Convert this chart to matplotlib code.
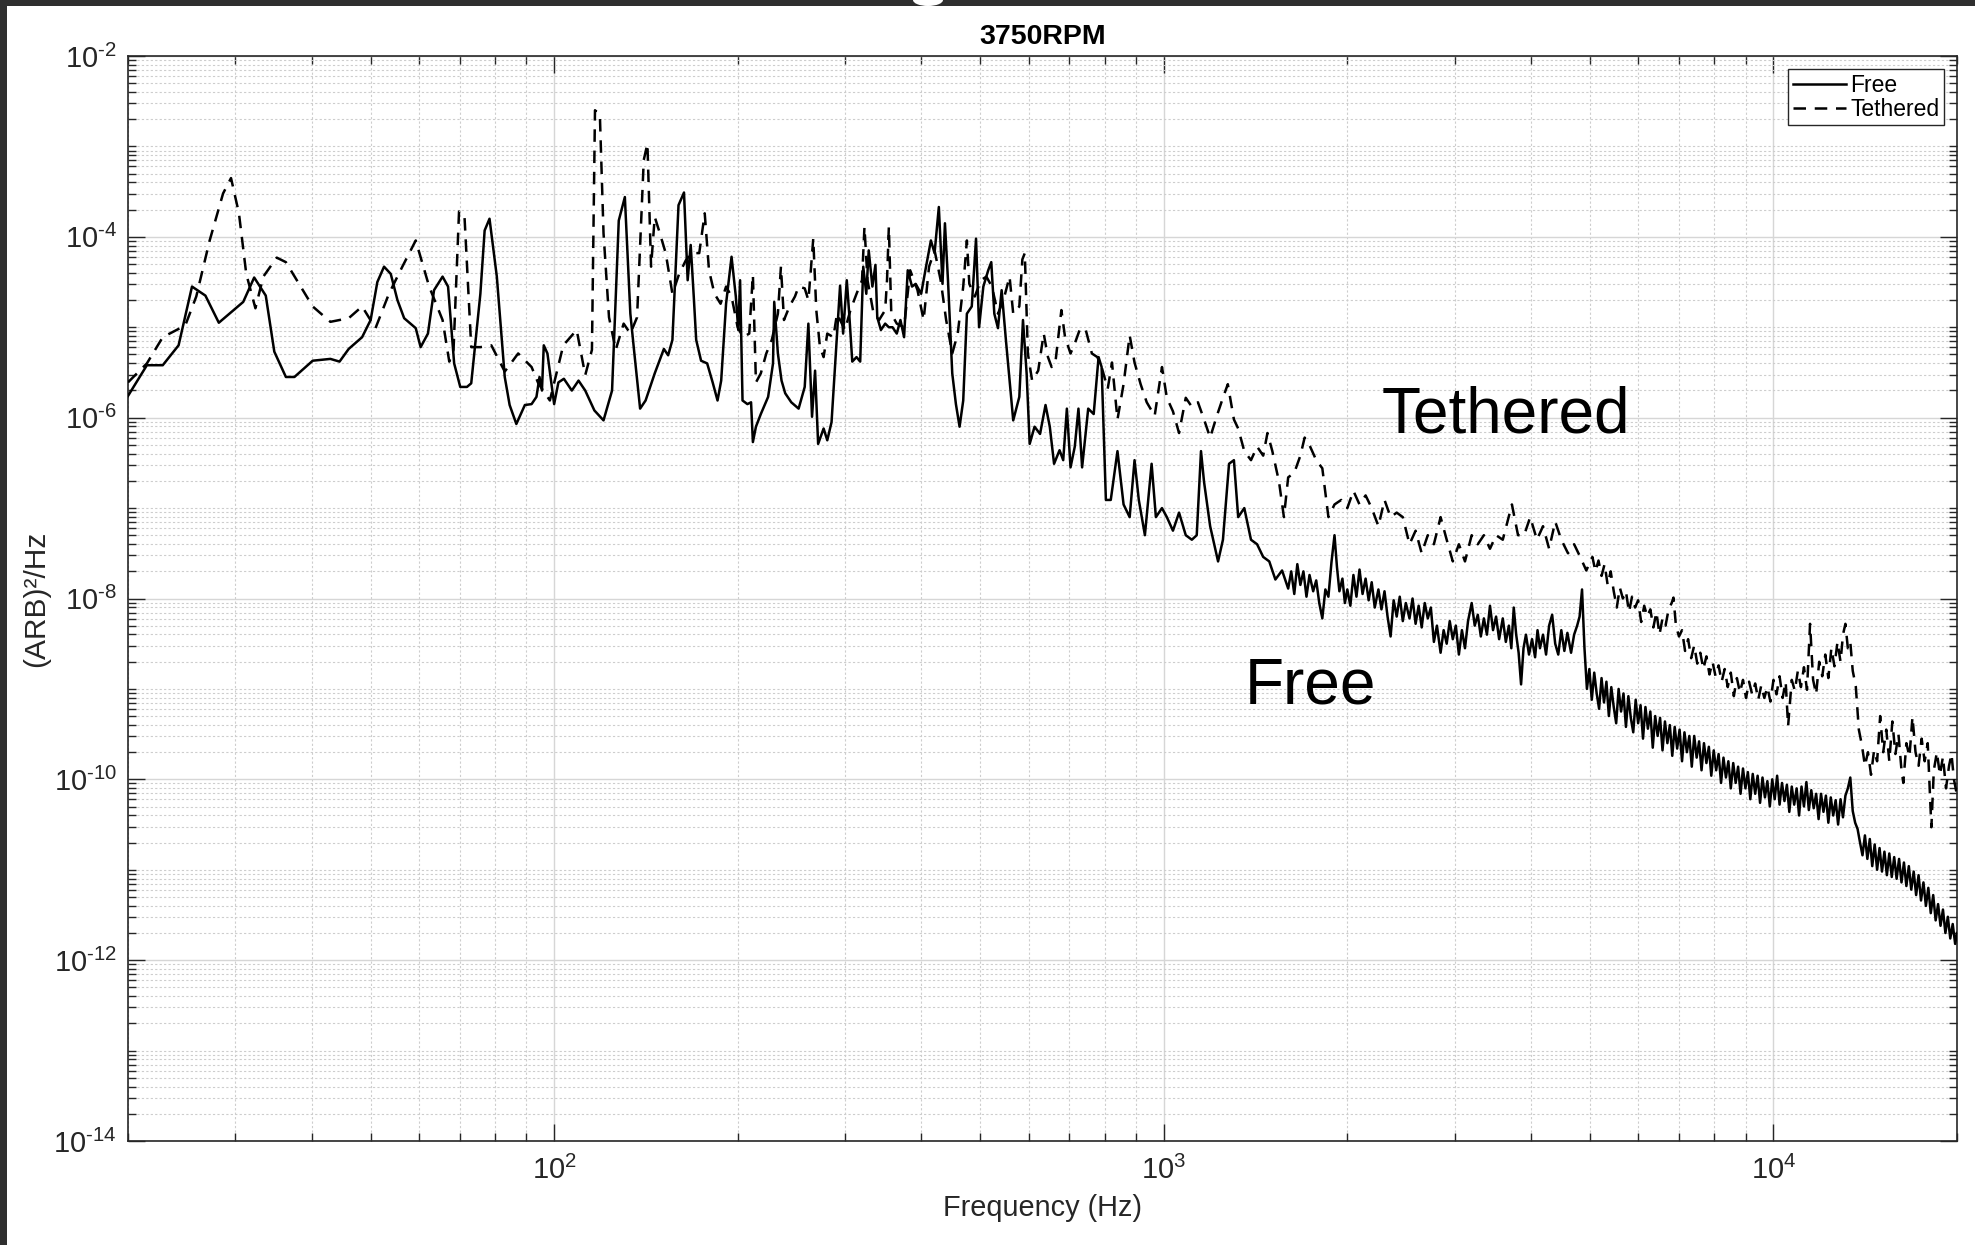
import numpy as np
import matplotlib
matplotlib.use("Agg")
import matplotlib.pyplot as plt
from matplotlib.ticker import LogLocator, FixedLocator, FuncFormatter, NullFormatter
from matplotlib.patches import Rectangle, Ellipse

# ---------------- data (log10 frequency [Hz], log10 PSD [(ARB)^2/Hz]) ----------------
free_points = [
    (1.301, -5.76), (1.332, -5.42), (1.358, -5.42), (1.384, -5.20), (1.406, -4.55), (1.428, -4.65),
    (1.450, -4.95), (1.490, -4.72), (1.508, -4.45), (1.527, -4.65), (1.541, -5.27), (1.560, -5.55),
    (1.574, -5.55), (1.604, -5.37), (1.633, -5.35), (1.648, -5.38), (1.663, -5.24), (1.685, -5.11),
    (1.699, -4.92), (1.710, -4.50), (1.721, -4.33), (1.732, -4.41), (1.743, -4.70), (1.754, -4.90),
    (1.773, -5.01), (1.781, -5.22), (1.793, -5.07), (1.803, -4.59), (1.817, -4.44), (1.826, -4.55),
    (1.836, -5.40), (1.846, -5.66), (1.857, -5.66), (1.864, -5.62), (1.879, -4.63), (1.886, -3.93),
    (1.894, -3.80), (1.906, -4.44), (1.919, -5.55), (1.927, -5.86), (1.938, -6.07), (1.952, -5.86),
    (1.963, -5.85), (1.971, -5.77), (1.976, -5.55), (1.980, -5.70), (1.983, -5.20), (1.989, -5.29),
    (2.000, -5.85), (2.007, -5.61), (2.016, -5.57), (2.029, -5.70), (2.040, -5.59), (2.051, -5.70),
    (2.066, -5.92), (2.081, -6.03), (2.095, -5.70), (2.106, -3.82), (2.116, -3.56), (2.125, -4.85),
    (2.131, -5.25), (2.141, -5.90), (2.150, -5.81), (2.165, -5.51), (2.180, -5.24), (2.187, -5.31),
    (2.194, -5.14), (2.204, -3.65), (2.213, -3.51), (2.219, -4.48), (2.224, -4.09), (2.229, -4.66),
    (2.233, -5.14), (2.241, -5.37), (2.251, -5.40), (2.260, -5.61), (2.268, -5.81), (2.274, -5.59),
    (2.282, -4.74), (2.291, -4.22), (2.298, -4.66), (2.302, -5.03), (2.305, -4.48), (2.309, -5.81),
    (2.317, -5.85), (2.323, -5.83), (2.326, -6.27), (2.331, -6.10), (2.339, -5.96), (2.351, -5.77),
    (2.359, -5.40), (2.361, -4.72), (2.367, -5.29), (2.373, -5.59), (2.379, -5.73), (2.389, -5.83),
    (2.401, -5.90), (2.411, -5.66), (2.417, -4.96), (2.423, -5.99), (2.428, -5.48), (2.433, -6.29),
    (2.442, -6.12), (2.448, -6.25), (2.455, -6.05), (2.461, -5.40), (2.469, -4.54), (2.474, -5.07),
    (2.480, -4.48), (2.484, -4.85), (2.489, -5.38), (2.496, -5.33), (2.502, -5.38), (2.507, -4.33),
    (2.512, -4.63), (2.516, -4.15), (2.522, -4.55), (2.527, -4.31), (2.530, -4.89), (2.536, -5.03),
    (2.543, -4.96), (2.549, -5.00), (2.555, -5.00), (2.562, -5.07), (2.568, -4.92), (2.574, -5.11),
    (2.580, -4.37), (2.587, -4.55), (2.593, -4.52), (2.602, -4.63), (2.610, -4.33), (2.618, -4.04),
    (2.624, -4.18), (2.631, -3.67), (2.637, -4.52), (2.641, -3.85), (2.646, -4.48), (2.653, -5.51),
    (2.659, -5.85), (2.665, -6.10), (2.671, -5.81), (2.677, -4.85), (2.685, -4.77), (2.692, -4.02),
    (2.697, -5.00), (2.704, -4.55), (2.712, -4.37), (2.717, -4.28), (2.722, -4.85), (2.728, -5.01),
    (2.734, -4.59), (2.741, -5.14), (2.747, -5.59), (2.753, -6.03), (2.763, -5.77), (2.769, -4.92),
    (2.775, -5.51), (2.780, -6.29), (2.788, -6.10), (2.797, -6.18), (2.806, -5.86), (2.813, -6.10),
    (2.820, -6.51), (2.829, -6.36), (2.835, -6.47), (2.841, -5.90), (2.847, -6.55), (2.854, -6.32),
    (2.860, -5.90), (2.866, -6.55), (2.876, -5.90), (2.885, -5.96), (2.893, -5.33), (2.898, -5.44),
    (2.905, -6.91), (2.913, -6.91), (2.924, -6.37), (2.934, -6.96), (2.944, -7.10), (2.952, -6.47),
    (2.959, -6.91), (2.969, -7.30), (2.980, -6.51), (2.987, -7.10), (2.997, -7.00), (3.005, -7.10),
    (3.015, -7.25), (3.025, -7.05), (3.036, -7.30), (3.046, -7.35), (3.054, -7.30), (3.061, -6.37),
    (3.066, -6.71), (3.076, -7.20), (3.089, -7.59), (3.097, -7.35), (3.107, -6.51), (3.115, -6.47),
    (3.122, -7.10), (3.132, -7.00), (3.143, -7.35), (3.153, -7.40), (3.163, -7.54), (3.173, -7.59),
    (3.183, -7.79), (3.194, -7.69),
    (3.204, -7.89), (3.209, -7.70), (3.214, -7.95), (3.219, -7.62), (3.224, -7.85), (3.229, -7.70),
    (3.234, -7.98), (3.239, -7.74), (3.245, -7.92), (3.250, -7.80), (3.255, -8.05), (3.260, -8.22),
    (3.265, -7.90), (3.270, -7.98), (3.275, -7.60), (3.280, -7.30), (3.284, -7.65), (3.288, -7.92),
    (3.293, -7.78), (3.297, -8.05), (3.301, -7.90), (3.306, -8.08), (3.311, -7.74), (3.316, -7.98),
    (3.321, -7.68), (3.326, -7.95), (3.331, -7.78), (3.336, -8.02), (3.341, -7.82), (3.346, -8.10),
    (3.352, -7.90), (3.357, -8.12), (3.362, -7.92), (3.367, -8.20), (3.372, -8.42), (3.377, -8.02),
    (3.382, -8.20), (3.387, -7.98), (3.392, -8.25), (3.397, -8.05), (3.403, -8.22), (3.408, -8.00),
    (3.413, -8.28), (3.418, -8.08), (3.423, -8.32), (3.428, -8.05), (3.433, -8.22), (3.438, -8.10),
    (3.443, -8.48), (3.448, -8.30), (3.454, -8.60), (3.459, -8.35), (3.464, -8.50), (3.469, -8.25),
    (3.474, -8.45), (3.479, -8.30), (3.484, -8.62), (3.489, -8.35), (3.494, -8.55), (3.499, -8.25),
    (3.505, -8.05), (3.510, -8.30), (3.515, -8.18), (3.520, -8.42), (3.525, -8.22), (3.530, -8.40),
    (3.535, -8.08), (3.540, -8.35), (3.545, -8.20), (3.550, -8.45), (3.556, -8.22), (3.561, -8.48),
    (3.566, -8.30), (3.570, -8.55), (3.574, -8.10), (3.578, -8.40), (3.582, -8.60), (3.586, -8.95),
    (3.590, -8.55), (3.594, -8.40), (3.599, -8.62), (3.604, -8.45), (3.609, -8.65), (3.613, -8.35),
    (3.617, -8.55), (3.622, -8.40), (3.627, -8.62), (3.632, -8.30), (3.637, -8.18), (3.642, -8.50),
    (3.647, -8.62), (3.652, -8.35), (3.657, -8.58), (3.662, -8.38), (3.668, -8.60), (3.673, -8.40),
    (3.678, -8.30), (3.682, -8.20), (3.686, -7.90),
    (3.690, -8.55), (3.694, -9.00), (3.698, -8.78), (3.702, -9.12), (3.706, -8.82), (3.710, -9.05),
    (3.714, -9.22), (3.718, -8.88), (3.722, -9.15), (3.726, -8.92), (3.730, -9.30), (3.734, -8.98),
    (3.738, -9.20), (3.742, -9.38), (3.746, -9.00), (3.750, -9.25), (3.754, -9.05), (3.758, -9.42),
    (3.762, -9.08), (3.766, -9.32), (3.770, -9.48), (3.774, -9.12), (3.778, -9.38), (3.782, -9.18),
    (3.786, -9.55), (3.790, -9.20), (3.794, -9.44), (3.798, -9.25), (3.802, -9.65), (3.806, -9.30),
    (3.810, -9.52), (3.814, -9.32), (3.818, -9.68), (3.822, -9.36), (3.826, -9.60), (3.830, -9.40),
    (3.834, -9.74), (3.838, -9.42), (3.842, -9.66), (3.846, -9.45), (3.850, -9.80), (3.854, -9.48),
    (3.858, -9.70), (3.862, -9.52), (3.866, -9.86), (3.870, -9.52), (3.874, -9.76), (3.878, -9.58),
    (3.882, -9.90), (3.886, -9.60), (3.890, -9.82), (3.894, -9.64), (3.898, -9.96), (3.902, -9.68),
    (3.906, -9.90), (3.910, -9.72), (3.914, -10.04), (3.918, -9.76), (3.922, -9.98), (3.926, -9.80),
    (3.930, -10.10), (3.934, -9.82), (3.938, -10.04), (3.942, -9.86), (3.946, -10.16), (3.950, -9.88),
    (3.954, -10.10), (3.958, -9.92), (3.962, -10.22), (3.966, -9.94), (3.970, -10.16), (3.974, -9.96),
    (3.978, -10.26), (3.982, -9.98), (3.986, -10.20), (3.990, -10.02), (3.994, -10.30), (3.998, -10.00),
    (4.002, -10.22), (4.006, -9.96), (4.010, -10.28), (4.014, -10.04), (4.018, -10.24), (4.022, -10.06),
    (4.026, -10.36), (4.030, -10.08), (4.034, -10.28), (4.038, -10.10), (4.042, -10.40), (4.046, -10.08),
    (4.050, -10.30), (4.054, -10.03), (4.058, -10.34), (4.062, -10.12), (4.066, -10.32), (4.070, -10.16),
    (4.074, -10.44), (4.078, -10.16), (4.082, -10.36), (4.086, -10.18), (4.090, -10.48), (4.094, -10.20),
    (4.098, -10.40), (4.102, -10.23), (4.106, -10.50), (4.110, -10.22), (4.114, -10.42), (4.118, -10.18),
    (4.122, -10.10), (4.126, -9.98),
    (4.130, -10.35), (4.134, -10.48), (4.138, -10.55), (4.142, -10.70), (4.146, -10.84), (4.150, -10.62),
    (4.154, -10.88), (4.158, -10.66), (4.162, -10.96), (4.166, -10.72), (4.170, -11.00), (4.174, -10.76),
    (4.178, -11.02), (4.182, -10.80), (4.186, -11.06), (4.190, -10.82), (4.194, -11.08), (4.198, -10.86),
    (4.202, -11.10), (4.206, -10.88), (4.210, -11.14), (4.214, -10.92), (4.218, -11.18), (4.222, -10.96),
    (4.226, -11.22), (4.230, -11.02), (4.234, -11.28), (4.238, -11.06), (4.242, -11.34), (4.246, -11.14),
    (4.250, -11.40), (4.254, -11.20), (4.258, -11.48), (4.262, -11.28), (4.266, -11.56), (4.270, -11.38),
    (4.274, -11.62), (4.278, -11.44), (4.282, -11.70), (4.286, -11.52), (4.290, -11.76), (4.294, -11.60),
    (4.298, -11.82), (4.301, -11.70),
]

tethered_points = [
    (1.301, -5.61), (1.332, -5.40), (1.358, -5.11), (1.395, -4.98), (1.413, -4.66), (1.435, -4.04),
    (1.457, -3.52), (1.470, -3.35), (1.483, -3.74), (1.495, -4.41), (1.510, -4.79), (1.523, -4.44),
    (1.545, -4.23), (1.560, -4.28), (1.578, -4.48), (1.604, -4.77), (1.633, -4.94), (1.663, -4.90),
    (1.685, -4.77), (1.707, -5.01), (1.729, -4.63), (1.751, -4.33), (1.773, -4.04), (1.795, -4.55),
    (1.817, -4.92), (1.828, -5.38), (1.835, -5.25), (1.844, -3.72), (1.853, -3.78), (1.864, -5.22),
    (1.879, -5.22), (1.897, -5.20), (1.919, -5.49), (1.941, -5.29), (1.963, -5.44), (1.974, -5.62),
    (1.993, -5.81), (2.015, -5.20), (2.037, -5.03), (2.051, -5.53), (2.062, -5.25), (2.067, -2.60),
    (2.075, -2.65), (2.081, -3.96), (2.090, -4.89), (2.101, -5.25), (2.114, -4.96), (2.125, -5.07),
    (2.136, -4.89), (2.147, -3.15), (2.153, -2.97), (2.159, -4.33), (2.165, -3.78), (2.172, -3.93),
    (2.183, -4.18), (2.194, -4.63), (2.205, -4.41), (2.216, -4.26), (2.225, -4.18), (2.238, -4.18),
    (2.247, -3.74), (2.254, -4.37), (2.263, -4.63), (2.273, -4.74), (2.282, -4.55), (2.291, -4.66),
    (2.301, -5.00), (2.310, -5.11), (2.320, -5.07), (2.326, -4.42), (2.331, -5.61), (2.339, -5.51),
    (2.348, -5.29), (2.357, -5.14), (2.367, -4.85), (2.372, -4.33), (2.377, -4.92), (2.386, -4.77),
    (2.395, -4.66), (2.401, -4.55), (2.411, -4.57), (2.417, -4.70), (2.421, -4.37), (2.425, -4.02),
    (2.430, -4.81), (2.436, -5.22), (2.442, -5.33), (2.448, -5.07), (2.458, -5.11), (2.464, -4.85),
    (2.477, -5.03), (2.486, -4.81), (2.496, -4.63), (2.505, -4.48), (2.509, -3.89), (2.514, -4.48),
    (2.524, -4.85), (2.533, -4.92), (2.543, -4.81), (2.546, -4.48), (2.549, -3.89), (2.553, -4.85),
    (2.562, -4.96), (2.574, -5.00), (2.584, -4.37), (2.596, -4.59), (2.606, -4.92), (2.615, -4.33),
    (2.624, -4.15), (2.634, -4.48), (2.643, -4.92), (2.653, -5.29), (2.662, -5.07), (2.671, -4.55),
    (2.677, -4.04), (2.681, -4.52), (2.690, -4.66), (2.700, -4.48), (2.709, -4.44), (2.718, -4.55),
    (2.728, -4.85), (2.737, -4.70), (2.747, -4.44), (2.753, -4.85), (2.763, -4.77), (2.768, -4.25),
    (2.772, -4.18), (2.777, -5.29), (2.784, -5.59), (2.794, -5.48), (2.803, -5.07), (2.810, -5.33),
    (2.816, -5.44), (2.822, -5.40), (2.832, -4.81), (2.838, -5.11), (2.847, -5.29), (2.854, -5.18),
    (2.863, -5.01), (2.872, -5.03), (2.882, -5.29), (2.891, -5.33), (2.898, -5.44), (2.908, -5.68),
    (2.915, -5.39), (2.924, -6.02), (2.934, -5.63), (2.944, -5.09), (2.952, -5.39), (2.962, -5.63),
    (2.972, -5.83), (2.985, -5.98), (2.997, -5.44), (3.005, -5.78), (3.015, -5.93), (3.025, -6.17),
    (3.036, -5.78), (3.046, -5.88), (3.056, -5.83), (3.066, -6.02), (3.076, -6.22), (3.087, -5.98),
    (3.097, -5.78), (3.105, -5.63), (3.115, -6.02), (3.122, -6.12), (3.132, -6.37), (3.143, -6.47),
    (3.153, -6.32), (3.163, -6.42), (3.170, -6.17), (3.178, -6.37), (3.189, -6.71), (3.197, -7.10),
    (3.204, -6.66), (3.214, -6.61), (3.224, -6.42), (3.231, -6.22), (3.240, -6.32), (3.250, -6.47),
    (3.260, -6.56), (3.270, -7.10), (3.280, -6.96), (3.291, -6.91), (3.301, -7.00), (3.311, -6.81),
    (3.321, -6.96), (3.331, -6.86), (3.341, -7.00), (3.352, -7.20), (3.362, -6.91), (3.372, -7.10),
    (3.382, -7.05), (3.392, -7.10), (3.403, -7.40), (3.413, -7.25), (3.423, -7.50), (3.433, -7.30),
    (3.443, -7.40), (3.454, -7.10), (3.464, -7.35), (3.474, -7.59), (3.484, -7.40), (3.494, -7.59),
    (3.505, -7.30), (3.515, -7.40), (3.525, -7.30), (3.535, -7.45), (3.545, -7.30), (3.556, -7.35),
    (3.571, -6.96), (3.581, -7.30), (3.591, -7.30), (3.601, -7.10), (3.612, -7.35), (3.622, -7.20),
    (3.632, -7.45), (3.642, -7.15), (3.652, -7.35), (3.663, -7.50), (3.673, -7.40), (3.683, -7.54),
    (3.693, -7.69), (3.703, -7.54), (3.708, -7.70), (3.713, -7.58), (3.718, -7.75), (3.723, -7.62),
    (3.728, -7.85), (3.733, -7.70), (3.738, -7.92), (3.743, -8.10), (3.748, -7.88), (3.753, -8.00),
    (3.758, -7.92), (3.763, -8.15), (3.768, -7.98), (3.773, -8.10), (3.778, -8.02), (3.783, -8.26),
    (3.788, -8.08), (3.793, -8.20), (3.798, -8.12), (3.803, -8.32), (3.808, -8.15), (3.813, -8.40),
    (3.818, -8.22), (3.823, -8.30), (3.828, -8.12), (3.833, -8.05), (3.836, -7.99), (3.840, -8.30),
    (3.845, -8.42), (3.850, -8.35), (3.855, -8.58), (3.860, -8.45), (3.865, -8.66), (3.870, -8.52),
    (3.875, -8.72), (3.880, -8.60), (3.885, -8.78), (3.890, -8.64), (3.895, -8.84), (3.900, -8.70),
    (3.905, -8.86), (3.910, -8.74), (3.915, -8.92), (3.920, -8.78), (3.925, -8.98), (3.930, -8.82),
    (3.935, -9.08), (3.940, -8.88), (3.945, -9.04), (3.950, -8.90), (3.955, -9.10), (3.960, -8.92),
    (3.965, -9.06), (3.970, -8.94), (3.975, -9.12), (3.980, -8.96), (3.985, -9.10), (3.990, -8.98),
    (3.995, -9.14), (4.000, -8.90), (4.005, -9.06), (4.010, -8.86), (4.015, -9.10), (4.020, -8.92),
    (4.024, -9.41), (4.030, -8.90), (4.035, -9.02), (4.040, -8.80), (4.045, -8.98), (4.050, -8.76),
    (4.055, -9.01), (4.060, -8.28), (4.065, -8.90), (4.070, -9.06), (4.075, -8.70), (4.080, -8.86),
    (4.085, -8.62), (4.090, -8.88), (4.095, -8.55), (4.100, -8.75), (4.105, -8.48), (4.110, -8.70),
    (4.114, -8.40), (4.118, -8.28), (4.122, -8.55), (4.126, -8.48), (4.130, -8.80), (4.135, -8.97),
    (4.140, -9.45), (4.145, -9.62), (4.150, -9.85), (4.155, -9.70), (4.160, -9.95), (4.165, -9.68),
    (4.170, -9.80), (4.175, -9.30), (4.180, -9.70), (4.185, -9.45), (4.190, -9.80), (4.195, -9.36),
    (4.200, -9.72), (4.205, -9.50), (4.210, -9.90), (4.213, -10.04), (4.218, -9.60), (4.223, -9.75),
    (4.228, -9.31), (4.233, -9.70), (4.238, -9.85), (4.243, -9.55), (4.248, -9.80), (4.253, -9.60),
    (4.259, -10.53), (4.263, -9.90), (4.268, -9.70), (4.273, -9.95), (4.278, -9.75), (4.283, -10.10),
    (4.288, -9.85), (4.292, -9.72), (4.296, -10.00), (4.300, -10.14),
]

series_labels = ["Free", "Tethered"]
x_tick_exponents = [2, 3, 4]
y_tick_exponents = [-14, -12, -10, -8, -6, -4, -2]
title_text = "3750RPM"
x_label = "Frequency (Hz)"
y_label = "(ARB)\u00b2/Hz"

# ---------------- style ----------------
plt.rcParams["font.family"] = ["Liberation Sans", "DejaVu Sans"]
plt.rcParams["mathtext.fontset"] = "custom"
plt.rcParams["mathtext.rm"] = "Liberation Sans"
plt.rcParams["mathtext.it"] = "Liberation Sans:italic"
plt.rcParams["mathtext.bf"] = "Liberation Sans:bold"
plt.rcParams["mathtext.default"] = "regular"

W, H = 1975, 1245
fig = plt.figure(figsize=(W / 100, H / 100), dpi=100)
fig.patch.set_facecolor("white")

ax_l, ax_r, ax_t, ax_b = 128, 1957, 56, 1141
ax = fig.add_axes([ax_l / W, 1 - ax_b / H, (ax_r - ax_l) / W, (ax_b - ax_t) / H])

fx = 10 ** np.array([p[0] for p in free_points])
fy = 10 ** np.array([p[1] for p in free_points])
tx = 10 ** np.array([p[0] for p in tethered_points])
ty = 10 ** np.array([p[1] for p in tethered_points])

ax.plot(fx, fy, color="black", lw=1.8, label=series_labels[0], zorder=3)
ax.plot(tx, ty, color="black", lw=1.8, dashes=(5, 3.5), label=series_labels[1], zorder=3)

ax.set_xscale("log")
ax.set_yscale("log")
ax.set_xlim(20, 20000)
ax.set_ylim(1e-14, 1e-2)


def exp_label(v, pos):
    e = int(round(np.log10(v)))
    if e < 0:
        return r"$10^{\text{-}%d}$" % (-e)
    return r"$10^{%d}$" % e


ax.xaxis.set_major_locator(FixedLocator([10.0 ** e for e in x_tick_exponents]))
ax.yaxis.set_major_locator(FixedLocator([10.0 ** e for e in y_tick_exponents]))
ax.xaxis.set_minor_locator(LogLocator(base=10, subs=np.arange(2, 10), numticks=100))
ax.yaxis.set_minor_locator(LogLocator(base=10, subs=np.arange(1, 10), numticks=100))
ax.xaxis.set_major_formatter(FuncFormatter(exp_label))
ax.yaxis.set_major_formatter(FuncFormatter(exp_label))
ax.xaxis.set_minor_formatter(NullFormatter())
ax.yaxis.set_minor_formatter(NullFormatter())

tick_col = "#262626"
ax.tick_params(which="both", direction="in", top=True, right=True, colors=tick_col, width=1.0)
ax.tick_params(which="major", length=12, labelsize=21)
ax.tick_params(which="minor", length=6)
ax.tick_params(axis="y", which="major", pad=8)
ax.tick_params(axis="x", which="major", pad=11)

ax.grid(which="major", color="#d6d6d6", lw=1.0, ls="-")
ax.grid(which="minor", color="#cdcdcd", lw=0.8, ls=(0, (2, 2)))
ax.set_axisbelow(True)
for s in ax.spines.values():
    s.set_color(tick_col)
    s.set_linewidth(1.2)

ax.set_title(title_text, fontsize=20.5, fontweight="bold", pad=9, color="black")
ax.set_xlabel(x_label, fontsize=20.8, color=tick_col, labelpad=6)
ax.set_ylabel(y_label, fontsize=21.5, color=tick_col)
ax.yaxis.set_label_coords((50 - ax_l) / (ax_r - ax_l), 0.5)

leg = ax.legend(loc="upper right", bbox_to_anchor=((1944 - ax_l) / (ax_r - ax_l), (ax_b - 69) / (ax_b - ax_t)),
                fontsize=16.5, frameon=True, fancybox=False, edgecolor=tick_col, framealpha=1,
                borderpad=0.2, handlelength=2.3, handletextpad=0.2, labelspacing=0.05,
                borderaxespad=0)
leg.get_frame().set_linewidth(1.0)

fig.text(1382 / W, 1 - 433 / H, "Tethered", fontsize=46, ha="left", va="baseline", color="black")
fig.text(1245 / W, 1 - 703 / H, "Free", fontsize=46, ha="left", va="baseline", color="black")

# screenshot frame (dark bands on top and left edges)
fig.patches.append(Rectangle((0, 1 - 6 / H), 1, 6 / H, transform=fig.transFigure,
                             facecolor="#2f2f2f", edgecolor="none", zorder=10))
fig.patches.append(Rectangle((0, 0), 7 / W, 1, transform=fig.transFigure,
                             facecolor="#2f2f2f", edgecolor="none", zorder=10))
fig.patches.append(Ellipse((928 / W, 1.0), 30 / W, 12 / H, transform=fig.transFigure,
                           facecolor="white", edgecolor="none", zorder=11))

fig.savefig("out.png", dpi=100)
